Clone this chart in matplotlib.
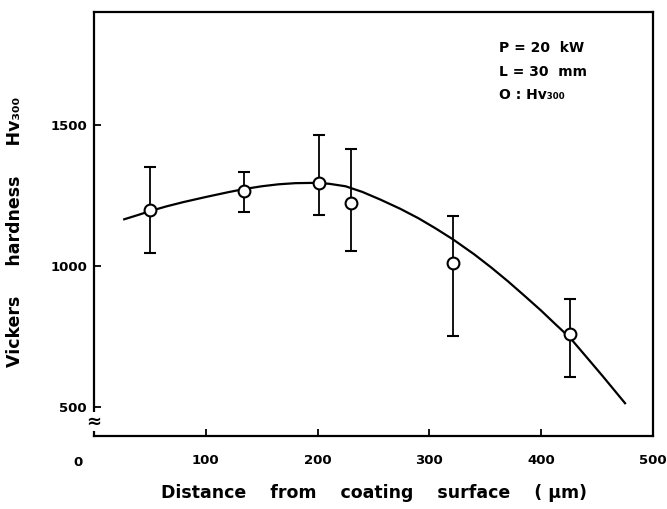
import matplotlib.pyplot as plt

# measured points (distance in um, Vickers hardness)
dist = [50, 134, 201, 230, 321, 426]
hv = [1199, 1266, 1293, 1222, 1012, 761]
hv_hi = [1352, 1332, 1465, 1414, 1178, 885]
hv_lo = [1047, 1193, 1181, 1053, 753, 607]

# fitted curve
curve_x = [27, 40, 50, 65, 80, 100, 120, 134, 150, 165, 180, 196, 210, 225, 240,
           256, 274, 290, 305, 321, 340, 355, 370, 385, 400, 413, 426, 440, 455, 475]
curve_y = [1166, 1182, 1195, 1212, 1227, 1245, 1262, 1273, 1283, 1290, 1294, 1295,
           1292, 1283, 1263, 1236, 1203, 1170, 1135, 1095, 1042, 996, 947, 895, 842,
           793, 745, 680, 610, 514]

xticks = [100, 200, 300, 400, 500]
yticks = [500, 1000, 1500]

plt.rcParams['font.family'] = 'DejaVu Sans'
plt.rcParams['font.weight'] = 'bold'

fig = plt.figure(figsize=(6.67, 5.09), dpi=100)
ax = fig.add_axes([0.141, 0.143, 0.838, 0.833])

ax.plot(curve_x, curve_y, color='black', lw=1.6)

yerr = [[h - l for h, l in zip(hv, hv_lo)], [u - h for u, h in zip(hv_hi, hv)]]
ax.errorbar(dist, hv, yerr=yerr, fmt='o', color='black', mfc='white', mec='black',
            ms=8.5, mew=1.5, elinewidth=1.3, capsize=4.5, capthick=1.8, zorder=3)

ax.set_xlim(0, 500)
ax.set_ylim(397, 1900)
ax.set_xticks(xticks)
ax.set_yticks(yticks)
ax.tick_params(direction='in', length=5, width=1.3, labelsize=9.5)
ax.tick_params(axis='x', pad=13)
ax.tick_params(axis='y', pad=5)
for s in ax.spines.values():
    s.set_linewidth(1.6)

# "0" label sits left of the axis break
ax.text(-0.028, -0.062, '0', transform=ax.transAxes, ha='center', va='center',
        fontsize=9.5, fontweight='bold')
# axis break mark
ax.text(0.0, 0.035, '≈', transform=ax.transAxes, ha='center', va='center',
        fontsize=13, clip_on=False,
        bbox=dict(facecolor='white', edgecolor='none', pad=0.3))

ax.set_xlabel('Distance    from    coating    surface    ( μm)', fontsize=12.5,
              fontweight='bold', labelpad=12)
fig.text(0.022, 0.545, 'Vickers     hardness     Hv₃₀₀', rotation=90, ha='center',
         va='center', fontsize=12.5, fontweight='bold')

ax.text(0.725, 0.915, 'P = 20  kW', transform=ax.transAxes, fontsize=10,
        fontweight='bold', va='center')
ax.text(0.725, 0.86, 'L = 30  mm', transform=ax.transAxes, fontsize=10,
        fontweight='bold', va='center')
ax.text(0.725, 0.805, 'O : Hv₃₀₀', transform=ax.transAxes, fontsize=10,
        fontweight='bold', va='center')

fig.savefig('out.png', dpi=100)
